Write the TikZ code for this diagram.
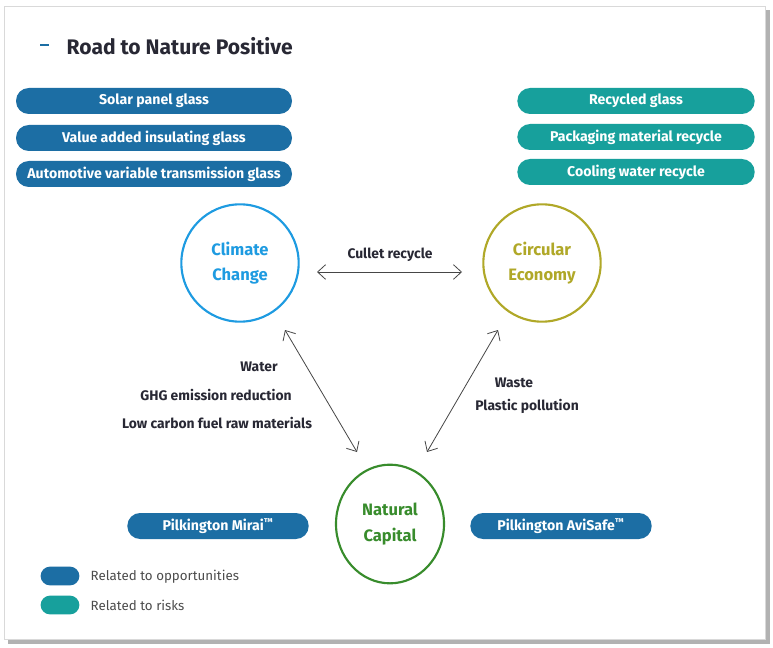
\documentclass[tikz,border=0pt]{standalone}
\usepackage{fontspec}
\setmainfont{Fira Sans}
\usetikzlibrary{arrows.meta,shapes.geometric}
\definecolor{oppblue}{RGB}{28,110,164}
\definecolor{risktea}{RGB}{23,160,156}
\definecolor{climblue}{RGB}{30,155,225}
\definecolor{circolive}{RGB}{176,168,40}
\definecolor{natgreen}{RGB}{56,140,44}
\definecolor{titledark}{RGB}{40,40,52}
\definecolor{linkgray}{RGB}{70,70,70}
\begin{document}
\begin{tikzpicture}[x=0.75pt,y=-0.75pt,
  pill/.style={draw=none, rounded corners=9.6pt, minimum height=19.5pt, text=white, font=\bfseries\fontsize{10.6}{12}\selectfont, inner sep=0pt},
  opp/.style={pill, fill=oppblue},
  risk/.style={pill, fill=risktea},
  theme/.style={draw, line width=1.6pt, circle, minimum size=88pt, align=center, font=\bfseries\fontsize{12.4}{19}\selectfont},
  lbl/.style={text=titledark, font=\bfseries\fontsize{10.4}{12}\selectfont},
  link/.style={draw=linkgray, line width=0.6pt, {Straight Barb[length=6pt,width=11pt]}-{Straight Barb[length=6pt,width=11pt]}}]
\useasboundingbox (0,0) rectangle (773,648);
% panel and shadow
\fill[black!30] (8,10) rectangle (770,644);
\fill[white, draw=black!15] (4,6) rectangle (765,639);

% title
\draw[oppblue, line width=1.2pt] (40,45) -- (49,45);
\node[anchor=west, text=titledark, font=\bfseries\fontsize{15.8}{18}\selectfont] (t) at (62,46) {Road to Nature Positive};

% opportunity pills
\node[opp, minimum width=207pt] (o1) at (154,101) {Solar panel glass};
\node[opp, minimum width=207pt] (o2) at (154,138) {Value added insulating glass};
\node[opp, minimum width=207pt] (o3) at (154,174) {Automotive variable transmission glass};

% risk pills
\node[risk, minimum width=178pt] (r1) at (636,101) {Recycled glass};
\node[risk, minimum width=178pt] (r2) at (636,137) {Packaging material recycle};
\node[risk, minimum width=178pt] (r3) at (636,172) {Cooling water recycle};

% themes
\node[theme, draw=climblue, text=climblue] (cc) at (240,263) {Climate\\Change};
\node[theme, draw=circolive, text=circolive] (ce) at (542,263) {Circular\\Economy};
\node[theme, ellipse, draw=natgreen, text=natgreen, minimum width=81pt, minimum height=89pt] (nc) at (390,524) {Natural\\Capital};

% links
\coordinate (a1) at (317,272);
\coordinate (a2) at (462,272);
\coordinate (b1) at (285,330);
\coordinate (b2) at (357,452);
\coordinate (c1) at (498,330);
\coordinate (c2) at (427,452);
\path[link] (a1) -- (a2);
\path[link] (b1) -- (b2);
\path[link] (c1) -- (c2);

\node[lbl] (l1) at (390,255) {Cullet recycle};
\node[lbl] (l2) at (259,367) {Water};
\node[lbl] (l3) at (216,395) {GHG emission reduction};
\node[lbl] (l4) at (217,423) {Low carbon fuel raw materials};
\node[lbl] (l5) at (514,383) {Waste};
\node[lbl] (l6) at (527,406) {Plastic pollution};

% products
\node[opp, minimum width=136pt] (p1) at (218,526) {Pilkington Mirai\textsuperscript{™}};
\node[opp, minimum width=136pt] (p2) at (561,526) {Pilkington AviSafe\textsuperscript{™}};

% legend
\node[pill, fill=oppblue, minimum width=29pt, minimum height=14pt, rounded corners=6.9pt] (k1) at (60,576) {};
\node[pill, fill=risktea, minimum width=29pt, minimum height=14pt, rounded corners=6.9pt] (k2) at (60,605) {};
\node[anchor=west, text=black!70, font=\fontsize{10}{12}\selectfont] (k1t) at (86,577) {Related to opportunities};
\node[anchor=west, text=black!70, font=\fontsize{10}{12}\selectfont] (k2t) at (86,605) {Related to risks};
\end{tikzpicture}
\end{document}
